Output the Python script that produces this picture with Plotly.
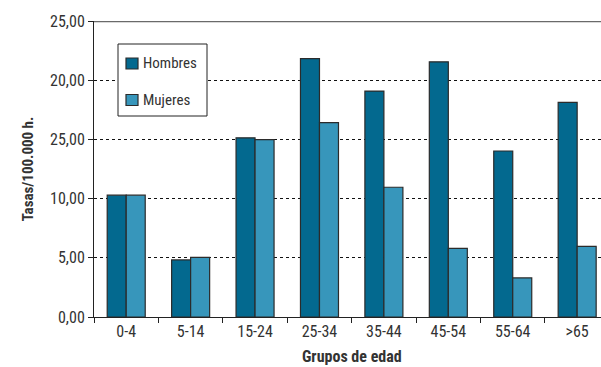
import plotly.graph_objects as go

# Age groups and rates per 100,000 inhabitants
grupos = ["0-4", "5-14", "15-24", "25-34", "35-44", "45-54", "55-64", ">65"]
hombres = [10.29, 4.82, 15.13, 21.83, 19.08, 21.55, 14.02, 18.12]
mujeres = [10.29, 5.03, 14.98, 16.41, 10.96, 5.80, 3.30, 5.96]

# Y-axis tick positions and their printed labels
y_ticks = [0, 5, 10, 15, 20, 25]
y_tick_text = ["0,00", "5,00", "10,00", "25,00", "20,00", "25,00"]

series = [("Hombres", hombres, "#03698F"), ("Mujeres", mujeres, "#3796BB")]

FONT = "Roboto Condensed, DejaVu Sans Condensed, sans-serif"
TEXT = "#333333"
FS = 16
OUTLINE = dict(color="#2b2b2b", width=1.2)

W, H = 601, 367
M_L, M_R, M_T, M_B = 94, 0, 21, 50
PW, PH = W - M_L - M_R, H - M_T - M_B


def px_x(x):
    """Pixel column -> paper x."""
    return (x - M_L) / PW


def px_y(y):
    """Pixel row -> paper y."""
    return (H - M_B - y) / PH


fig = go.Figure()
for name, vals, color in series:
    fig.add_trace(go.Bar(x=grupos, y=vals, name=name,
                         marker=dict(color=color, line=OUTLINE)))

# Solid grey frame line at the top of the value axis
fig.add_shape(type="line", xref="paper", yref="y", x0=0, x1=1, y0=25, y1=25,
              line=dict(color="#6a6a6a", width=2.5), layer="above")

# Boxed legend in the upper-left corner
fig.add_shape(type="rect", xref="paper", yref="paper",
              x0=px_x(118), x1=px_x(207), y0=px_y(116), y1=px_y(44),
              line=dict(color="#222222", width=1), fillcolor="white",
              layer="above")
for i, (name, _, color) in enumerate(series):
    cy = 63.5 + i * 36.5
    fig.add_shape(type="rect", xref="paper", yref="paper",
                  x0=px_x(126), x1=px_x(138), y0=px_y(cy + 5.5), y1=px_y(cy - 5.5),
                  line=dict(color="#2b2b2b", width=1.2), fillcolor=color,
                  layer="above")
    fig.add_annotation(xref="paper", yref="paper", x=px_x(141), y=px_y(cy),
                       xanchor="left", yanchor="middle", text=name,
                       showarrow=False,
                       font=dict(family=FONT, size=FS - 1, color=TEXT))

# Axis title for the age groups
fig.add_annotation(xref="paper", yref="paper", x=px_x(352), y=px_y(367),
                   xanchor="center", yanchor="bottom", borderpad=0,
                   text="<b>Grupos de edad</b>", showarrow=False,
                   font=dict(family=FONT, size=FS, color=TEXT))

fig.update_layout(
    width=W, height=H,
    margin=dict(l=M_L, r=M_R, t=M_T, b=M_B),
    paper_bgcolor="white", plot_bgcolor="white",
    barmode="group", bargap=0.41, bargroupgap=0,
    font=dict(family=FONT, size=FS, color=TEXT),
    showlegend=False,
    xaxis=dict(range=[-0.5, 7.37], tickson="boundaries", ticks="outside",
               ticklen=5, tickcolor="#222222", showline=True,
               linecolor="#222222", linewidth=1, showgrid=False,
               tickfont=dict(size=FS)),
    yaxis=dict(range=[0, 25], tickvals=y_ticks, ticktext=y_tick_text,
               ticks="outside", ticklen=5, tickcolor="#222222",
               showline=True, linecolor="#222222", linewidth=1,
               showgrid=True, gridcolor="#111111", griddash="dot", gridwidth=1,
               zeroline=False, tickfont=dict(size=FS),
               title=dict(text="<b>Tasas/100.000 h.</b>", standoff=12,
                          font=dict(family=FONT, size=FS - 1, color=TEXT))),
)

fig.write_html("out.html")
